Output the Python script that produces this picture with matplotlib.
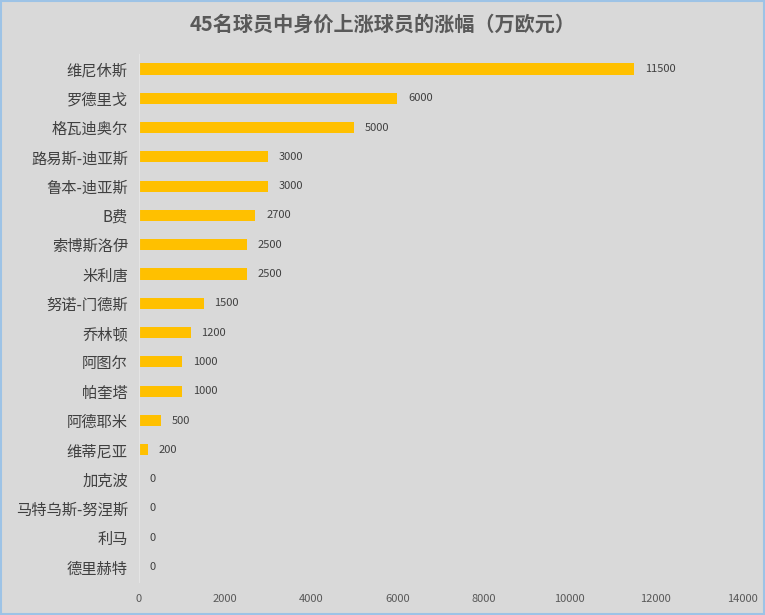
import matplotlib.pyplot as plt

plt.rcParams['font.family'] = ['Noto Sans CJK SC', 'DejaVu Sans']

players = ["维尼休斯", "罗德里戈", "格瓦迪奥尔", "路易斯-迪亚斯", "鲁本-迪亚斯", "B费",
           "索博斯洛伊", "米利唐", "努诺-门德斯", "乔林顿", "阿图尔", "帕奎塔",
           "阿德耶米", "维蒂尼亚", "加克波", "马特乌斯-努涅斯", "利马", "德里赫特"]
rise = [11500, 6000, 5000, 3000, 3000, 2700, 2500, 2500, 1500, 1200, 1000, 1000,
        500, 200, 0, 0, 0, 0]
xticks = [0, 2000, 4000, 6000, 8000, 10000, 12000, 14000]

bg = '#D9D9D9'
fig = plt.figure(figsize=(7.65, 6.15), dpi=100, facecolor=bg)
ax = fig.add_axes([0.1817, 0.0543, 0.7883, 0.8573], facecolor=bg)

pos = list(range(len(players)))
ax.barh(pos, rise, height=0.38, color='#FFC000')
ax.set_ylim(len(players) - 0.5, -0.5)
ax.set_xlim(0, 14000)
ax.set_yticks(pos)
ax.set_yticklabels(players, fontsize=11, color='#404040')
ax.set_xticks(xticks)
ax.set_xticklabels([str(t) for t in xticks], fontsize=8, color='#595959')
ax.tick_params(axis='y', length=0, pad=8)
ax.tick_params(axis='x', length=0, pad=9)

for s in ['top', 'right', 'bottom']:
    ax.spines[s].set_visible(False)
ax.spines['left'].set_color('#E4E4E4')
ax.spines['left'].set_linewidth(0.8)

for p, v in zip(pos, rise):
    ax.text(v + 250, p, str(v), va='center', ha='left', fontsize=8, color='#404040')

fig.text(0.5, 0.961, "45名球员中身价上涨球员的涨幅（万欧元）", ha='center', va='center',
         fontsize=14.5, fontweight='bold', color='#595959')

border = plt.Rectangle((0.001, 0.001), 0.998, 0.998, transform=fig.transFigure,
                       fill=False, edgecolor='#9DC3E6', linewidth=1.5)
fig.patches.append(border)

fig.savefig('out.png', dpi=100, facecolor=bg)
